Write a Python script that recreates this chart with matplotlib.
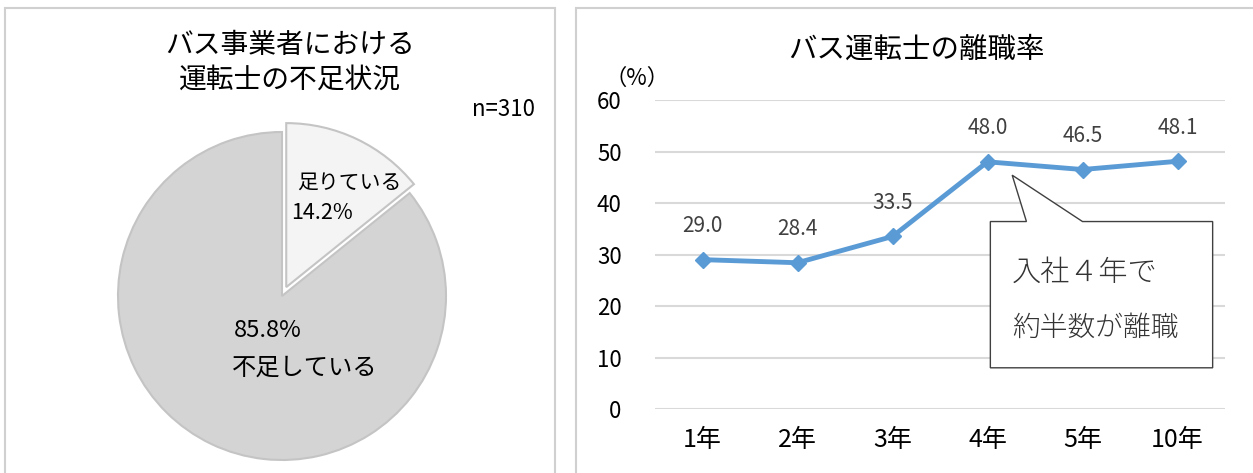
import matplotlib.pyplot as plt
from matplotlib.patches import Rectangle, Polygon

plt.rcParams['font.family'] = ['Noto Sans CJK JP', 'DejaVu Sans']

# 円グラフのデータ
pie_labels = ['足りている', '不足している']
pie_values = [14.2, 85.8]
n_text = 'n=310'

# 折れ線グラフのデータ
years = ['1年', '2年', '3年', '4年', '5年', '10年']
rates = [29.0, 28.4, 33.5, 48.0, 46.5, 48.1]

W, H = 1253, 473
fig = plt.figure(figsize=(W / 100, H / 100), dpi=100)


def px_rect(x0, y0, x1, y1):
    # ピクセル座標（左上原点）を figure 座標に変換
    return [x0 / W, 1 - y1 / H, (x1 - x0) / W, (y1 - y0) / H]


# パネルの枠
for x0, y0, x1, y1 in [(5, 8, 555, 480), (576, 8, 1260, 480)]:
    r = px_rect(x0, y0, x1, y1)
    fig.patches.append(Rectangle((r[0], r[1]), r[2], r[3], transform=fig.transFigure,
                                 fill=False, edgecolor='#d0d0d0', linewidth=1.5))

# ---- 左：円グラフ ----
cx, cy, rad = 282, 296, 164
ax1 = fig.add_axes(px_rect(cx - rad, cy - rad, cx + rad, cy + rad))
ax1.pie(pie_values, startangle=90, counterclock=False, explode=[0.06, 0],
        colors=['#f4f4f4', '#d5d4d5'],
        wedgeprops=dict(edgecolor='#c4c4c4', linewidth=1.5))
ax1.set_xlim(-1, 1)
ax1.set_ylim(-1, 1)
ax1.set_aspect('equal')
for w in ax1.patches:
    w.set_clip_on(False)

fig.text(290 / W, 1 - 62 / H, 'バス事業者における\n運転士の不足状況', ha='center', va='center',
         fontsize=20, linespacing=1.2)
fig.text(504 / W, 1 - 110 / H, n_text, ha='center', va='center', fontsize=16)
fig.text(349 / W, 1 - 183 / H, pie_labels[0], ha='center', va='center', fontsize=15)
fig.text(322 / W, 1 - 213 / H, f'{pie_values[0]:.1f}%', ha='center', va='center', fontsize=15.5)
fig.text(268 / W, 1 - 330 / H, f'{pie_values[1]:.1f}%', ha='center', va='center', fontsize=17)
fig.text(305 / W, 1 - 368 / H, pie_labels[1], ha='center', va='center', fontsize=17.5)

# ---- 右：折れ線グラフ ----
ax2 = fig.add_axes(px_rect(655, 100, 1225, 409))
x = list(range(len(years)))
ax2.plot(x, rates, color='#5b9bd5', linewidth=3.5, marker='D', markersize=8, zorder=3)
for xi, v in zip(x, rates):
    ax2.annotate(f'{v:.1f}', (xi, v), textcoords='offset points', xytext=(0, 24),
                 ha='center', va='center', fontsize=15, color='#404040')
ax2.set_xlim(-0.5, len(years) - 0.5)
ax2.set_ylim(0, 60)
ax2.set_yticks(range(0, 61, 10))
ax2.set_xticks(x)
ax2.set_xticklabels(years)
ax2.tick_params(axis='y', length=0, pad=24, labelsize=16)
ax2.tick_params(axis='x', length=0, pad=13, labelsize=18)
ax2.grid(axis='y', color='#d9d9d9', linewidth=1.5)
ax2.set_axisbelow(True)
for s in ax2.spines.values():
    s.set_visible(False)

fig.text(916 / W, 1 - 50 / H, 'バス運転士の離職率', ha='center', va='center', fontsize=20.5)
fig.text(637 / W, 1 - 78 / H, '（%）', ha='center', va='center', fontsize=16)

# 吹き出し
callout = [(3.03, 36.4), (3.41, 36.4), (3.26, 45.4), (4.0, 36.4), (5.37, 36.4),
           (5.37, 8.0), (3.03, 8.0)]
ax2.add_patch(Polygon(callout, closed=True, facecolor='white', edgecolor='#404040',
                      linewidth=1.0, zorder=4, clip_on=False))
ax2.text(3.26, 26.4, '入社４年で', ha='left', va='center', fontsize=21, color='#333333',
         fontweight='light', zorder=5)
ax2.text(3.26, 15.7, '約半数が離職', ha='left', va='center', fontsize=20, color='#333333',
         fontweight='light', zorder=5)

fig.savefig('out.png', dpi=100)
